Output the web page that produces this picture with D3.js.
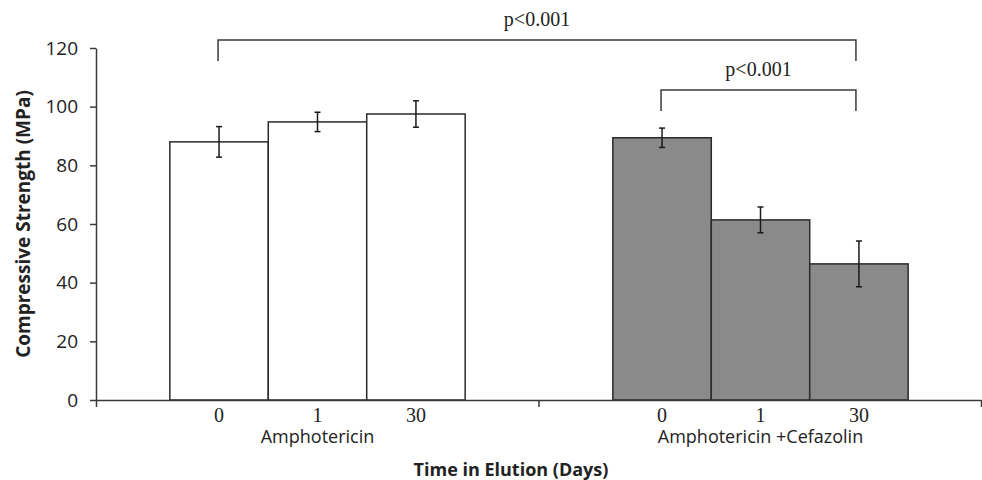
<!DOCTYPE html>
<html>
<head>
<meta charset="utf-8">
<script src="https://cdn.jsdelivr.net/npm/d3@7"></script>
<style>
  body { margin: 0; background: #fff; }
  svg { display: block; }
</style>
</head>
<body>
<div class="svg-content"></div>
<script>
const groups = ["Amphotericin", "Amphotericin +Cefazolin"];
const days = ["0", "1", "30"];
const means = [[88, 94.8, 97.5], [89.4, 61.4, 46.4]];
const errors = [[5.2, 3.3, 4.5], [3.3, 4.4, 7.8]];
const yTicks = [0, 20, 40, 60, 80, 100, 120];
// [group, day] pairs for the significance brackets
const brackets = [
  { from: [0, 0], to: [1, 2], label: "p<0.001", level: 1 },
  { from: [1, 0], to: [1, 2], label: "p<0.001", level: 0 }
];

const svgWidth = 982;
const svgHeight = 480;
const plotLeft = 96, plotRight = 982, plotTop = 48, plotBottom = 400;
const sans = "'Open Sans', Lato, sans-serif";
const serif = "'Liberation Serif', 'Times New Roman', serif";

const svg = d3.select(".svg-content")
              .append("svg")
              .attr("width", svgWidth)
              .attr("height", svgHeight);

const yScale = d3.scaleLinear()
                 .domain([0, 120])
                 .range([plotBottom, plotTop]);

const groupScale = d3.scaleBand()
                     .domain(groups)
                     .range([plotLeft, plotRight]);

const dayScale = d3.scaleBand()
                   .domain(days)
                   .range([0, groupScale.bandwidth()])
                   .paddingOuter(0.75)
                   .paddingInner(0);

const fills = ["#ffffff", "#8a8a8a"];

let bars = [];
groups.forEach((g, gi) => {
  days.forEach((d, di) => {
    bars.push({ group: g, gi: gi, day: d, value: means[gi][di], err: errors[gi][di] });
  });
});

const barX = item => groupScale(item.group) + dayScale(item.day);
const barCenter = (gi, di) => groupScale(groups[gi]) + dayScale(days[di]) + dayScale.bandwidth() / 2;

svg.selectAll("rect.bar")
   .data(bars)
   .enter()
   .append("rect")
   .attr("class", "bar")
   .attr("x", item => barX(item))
   .attr("y", item => yScale(item.value))
   .attr("width", dayScale.bandwidth())
   .attr("height", item => plotBottom - yScale(item.value))
   .attr("fill", item => fills[item.gi])
   .attr("stroke", "#2b2b2b")
   .attr("stroke-width", 1.5);

// error bars
const errG = svg.append("g")
                .attr("stroke", "#1a1a1a")
                .attr("stroke-width", 1.5);

bars.forEach(item => {
  const cx = barX(item) + dayScale.bandwidth() / 2;
  const y1 = yScale(item.value + item.err);
  const y2 = yScale(item.value - item.err);
  errG.append("line").attr("x1", cx).attr("x2", cx).attr("y1", y1).attr("y2", y2);
  errG.append("line").attr("x1", cx - 3).attr("x2", cx + 3).attr("y1", y1).attr("y2", y1);
  errG.append("line").attr("x1", cx - 3).attr("x2", cx + 3).attr("y1", y2).attr("y2", y2);
});

// axes
const yAxis = d3.axisLeft(yScale)
                .tickValues(yTicks)
                .tickSize(6)
                .tickSizeOuter(0)
                .tickPadding(12);

const yG = svg.append("g")
              .attr("transform", "translate(" + plotLeft + ",0)")
              .call(yAxis);

yG.selectAll("text")
  .attr("font-family", sans)
  .attr("font-size", 19)
  .attr("fill", "#222");

const boundScale = d3.scaleLinear()
                     .domain([0, groups.length])
                     .range([plotLeft, plotRight - 1]);

const xAxis = d3.axisBottom(boundScale)
                .tickValues(d3.range(groups.length + 1))
                .tickSize(7)
                .tickSizeOuter(0)
                .tickFormat("");

svg.append("g")
   .attr("transform", "translate(0," + plotBottom + ")")
   .call(xAxis);

svg.selectAll(".domain, .tick line")
   .attr("stroke", "#3a3a3a")
   .attr("stroke-width", 1.5);

// day labels
groups.forEach((g, gi) => {
  days.forEach((d, di) => {
    svg.append("text")
       .attr("x", barCenter(gi, di))
       .attr("y", 422)
       .attr("text-anchor", "middle")
       .attr("font-family", serif)
       .attr("font-size", 20)
       .attr("fill", "#222")
       .text(d);
  });
  svg.append("text")
     .attr("x", groupScale(g) + groupScale.bandwidth() / 2)
     .attr("y", 443)
     .attr("text-anchor", "middle")
     .attr("font-family", sans)
     .attr("font-size", 18)
     .attr("fill", "#222")
     .text(g);
});

// axis titles
svg.append("text")
   .attr("x", 511)
   .attr("y", 476)
   .attr("text-anchor", "middle")
   .attr("font-family", sans)
   .attr("font-weight", "bold")
   .attr("font-size", 18)
   .attr("fill", "#222")
   .text("Time in Elution (Days)");

svg.append("text")
   .attr("transform", "translate(30,224) rotate(-90)")
   .attr("text-anchor", "middle")
   .attr("font-family", sans)
   .attr("font-weight", "bold")
   .attr("font-size", 19)
   .attr("fill", "#222")
   .text("Compressive Strength (MPa)");

// significance brackets
const bracketY = [90, 40];
brackets.forEach(b => {
  const x1 = barCenter(b.from[0], b.from[1]) - 1;
  const x2 = barCenter(b.to[0], b.to[1]) - 3;
  const y = bracketY[b.level];
  svg.append("path")
     .attr("d", "M" + x1 + "," + (y + 21) + "V" + y + "H" + x2 + "V" + (y + 21))
     .attr("fill", "none")
     .attr("stroke", "#3a3a3a")
     .attr("stroke-width", 1.5);
  svg.append("text")
     .attr("x", (x1 + x2) / 2)
     .attr("y", y - 14)
     .attr("text-anchor", "middle")
     .attr("font-family", serif)
     .attr("font-size", 20)
     .attr("fill", "#222")
     .text(b.label);
});
</script>
</body>
</html>
